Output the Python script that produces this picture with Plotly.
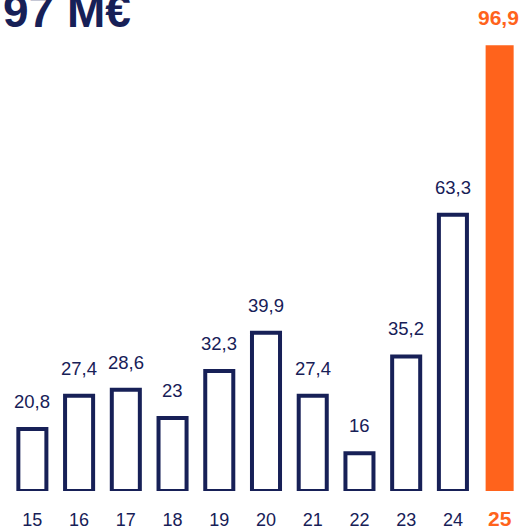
import plotly.graph_objects as go

years = ["15", "16", "17", "18", "19", "20", "21", "22", "23", "24", "25"]
values = [20.8, 27.4, 28.6, 23, 32.3, 39.9, 27.4, 16, 35.2, 63.3, 96.9]
labels = ["20,8", "27,4", "28,6", "23", "32,3", "39,9", "27,4", "16", "35,2", "63,3", "96,9"]
title = "97 M€"

NAVY = "#172057"
ORANGE = "#ff631c"
BASE = 8.5  # bars start from this value, not zero
FONT = "Liberation Sans, Arial, sans-serif"

past_x, past_y = years[:-1], values[:-1]
last_x, last_y = years[-1:], values[-1:]

fig = go.Figure()

fig.add_trace(go.Bar(
    x=past_x, y=[v - BASE for v in past_y], base=BASE,
    width=0.6,
    marker=dict(color="white", line=dict(color=NAVY, width=4)),
    showlegend=False, hoverinfo="skip",
))
fig.add_trace(go.Bar(
    x=last_x, y=[v - BASE for v in last_y], base=BASE,
    width=0.6,
    marker=dict(color=ORANGE, line=dict(width=0)),
    showlegend=False, hoverinfo="skip",
))

# value labels above bars (x given as category index)
for i, (v, t) in enumerate(zip(values, labels)):
    last = i == len(values) - 1
    fig.add_annotation(
        x=i, y=v, xref="x", yref="y",
        text=f"<b>{t}</b>" if last else t,
        showarrow=False, yanchor="bottom",
        xshift=-1 if last else 0,
        yshift=14 if last else 15,
        font=dict(size=21 if last else 18.5, color=ORANGE if last else NAVY, family=FONT),
    )

fig.add_annotation(
    x=0, y=1, xref="paper", yref="paper", xanchor="left", yanchor="top",
    xshift=-8, yshift=17,
    text=f"<b>{title}</b>", showarrow=False,
    font=dict(size=46, color=NAVY, family=FONT),
)

ticktext = [f"<span style='color:{ORANGE};font-size:21px'><b>{y}</b></span>" if y == years[-1] else y
            for y in years]

fig.update_xaxes(
    type="category", tickvals=years, ticktext=ticktext,
    showgrid=False, showline=False, zeroline=False, ticks="",
    ticklabelstandoff=16,
    tickfont=dict(size=18, color=NAVY, family=FONT),
    range=[-0.5, 10.5],
)
fig.update_yaxes(visible=False, range=[BASE, 105.9])

fig.update_layout(
    width=524, height=532,
    margin=dict(l=9, r=1, t=0, b=41),
    plot_bgcolor="white", paper_bgcolor="white",
    bargap=0.4,
)

fig.write_html("out.html", config={"displayModeBar": False},
               post_script="document.body.style.margin='0';")
